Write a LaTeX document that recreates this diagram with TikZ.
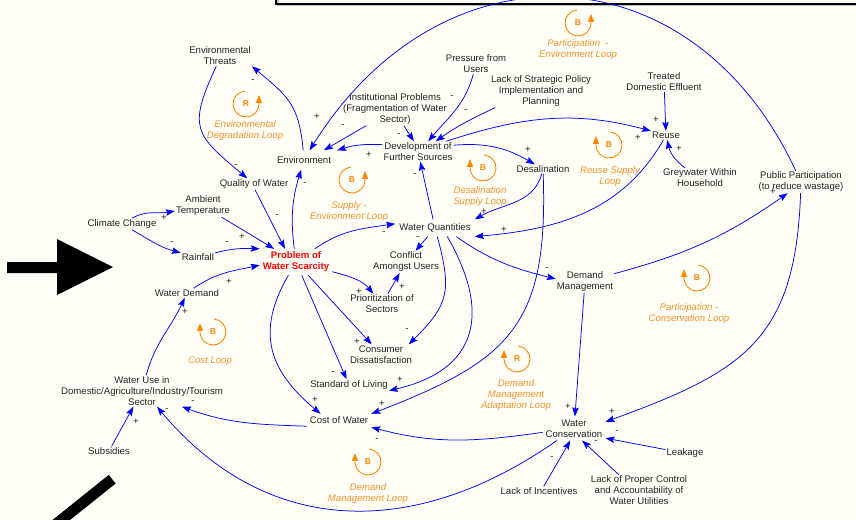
\documentclass[tikz,border=0pt]{standalone}
\usepackage{fontspec}
\setmainfont{Liberation Sans}
\usetikzlibrary{arrows.meta}
\definecolor{paper}{RGB}{255,255,248}
\definecolor{linkblue}{RGB}{0,0,255}
\definecolor{loopcol}{RGB}{255,133,0}
\definecolor{looptext}{RGB}{250,145,40}
\definecolor{varcol}{RGB}{35,35,35}
\tikzset{var/.style={inner sep=1pt,align=center,text=varcol,font=\fontsize{9.6}{11}\selectfont}}
\tikzset{core/.style={var,text=red,font=\fontsize{9.6}{11}\selectfont\bfseries}}
\tikzset{sgn/.style={inner sep=0pt,text=varcol,font=\fontsize{9.6}{11}\selectfont}}
\tikzset{loop label/.style={align=center,inner sep=0pt,text=looptext,font=\fontsize{9.6}{11}\selectfont\itshape}}
\tikzset{loop mark/.style={inner sep=0pt,text=loopcol,font=\fontsize{8.5}{10}\selectfont\bfseries}}
\tikzset{loop ring/.style={draw=loopcol,line width=0.9pt,-{Triangle[length=8pt,width=6pt]}}}
\begin{document}
\begin{tikzpicture}[x=1pt,y=1pt,>={Stealth[length=9pt,width=6.5pt,inset=1.5pt]},
                    every edge/.style={draw=linkblue,line width=0.75pt}]
\fill[paper] (0,0) rectangle (856,-519);
\useasboundingbox (0,0) rectangle (856,-519);

% frame of the box above and the two black marks
\draw[gray!55,line width=1.2pt] (278,2) -- (278,-5.3) -- (860,-5.3);
\draw[black,line width=1.5pt] (276,2) -- (276,-3.8) -- (860,-3.8);
\fill[black] (7,-262) -- (57,-262) -- (57,-239) -- (113,-267) -- (57,-295) -- (57,-273) -- (7,-273) -- cycle;
\draw[black,line width=11pt] (112.2,-479.2) -- (55,-525);

\node[var] (EnvThr) at (220,-56) {Environmental\\Threats};
\node[var] (InstProb) at (395,-109) {Institutional Problems\\(Fragmentation of Water\\Sector)};
\node[var] (Pressure) at (476,-64) {Pressure from\\Users};
\node[var] (LackStrat) at (541,-91) {Lack of Strategic Policy\\Implementation and\\Planning};
\node[var] (Treated) at (664,-82) {Treated\\Domestic Effluent};
\node[var,inner sep=6pt] (Env) at (304,-160) {Environment};
\node[var] (DevSrc) at (418,-151.5) {Development of\\Further Sources};
\node[var] (Desal) at (543,-169) {Desalination};
\node[var] (Reuse) at (666,-135.5) {Reuse};
\node[var] (Grey) at (700,-178) {Greywater Within\\Household};
\node[var] (PubPart) at (801,-182) {Public Participation\\(to reduce wastage)};
\node[var] (QualW) at (254,-184) {Quality of Water};
\node[var] (AmbT) at (203,-206) {Ambient\\Temperature};
\node[var] (Climate) at (122,-224) {Climate Change};
\node[var] (Rain) at (198,-257.5) {Rainfall};
\node[core,inner sep=3pt] (Problem) at (296,-262) {Problem of\\Water Scarcity};
\node[var,inner sep=4pt] (WQuant) at (435,-228) {Water Quantities};
\node[var] (Conflict) at (406,-262) {Conflict\\Amongst Users};
\node[var] (Prior) at (382,-304) {Prioritization of\\Sectors};
\node[var] (WDemand) at (187,-293) {Water Demand};
\node[var] (DemMgmt) at (585,-281.5) {Demand\\Management};
\node[var] (Consumer) at (381,-354.5) {Consumer\\Dissatisfaction};
\node[var] (StdLiv) at (349,-385) {Standard of Living};
\node[var] (WUse) at (142,-391) {Water Use in\\Domestic/Agriculture/Industry/Tourism\\Sector};
\node[var,inner sep=3pt] (Cost) at (339,-420.5) {Cost of Water};
\node[var,inner sep=3pt] (WCons) at (574,-428.5) {Water\\Conservation};
\node[var] (Leak) at (685,-453) {Leakage};
\node[var] (Subs) at (109,-451) {Subsidies};
\node[var] (LackInc) at (539,-491) {Lack of Incentives};
\node[var] (LackCtrl) at (639,-490.5) {Lack of Proper Control\\and Accountability of\\Water Utilities};

\path[->]
  (Env) edge[out=95,in=-40,looseness=1.2] (EnvThr.south east)
  (EnvThr.250) edge[out=-115,in=140,looseness=1.5] (QualW)
  (QualW.-80) edge (Problem.130)
  (Problem) edge[bend left=12] (Env)
  (AmbT) edge (Problem)
  (Climate) edge[out=30,in=190] (AmbT)
  (Climate) edge[out=-30,in=165] (Rain)
  (Rain) edge[out=15,in=178] (Problem.160)
  (WDemand) edge[out=35,in=192] (Problem.185)
  (WUse) edge[out=75,in=-115] (WDemand)
  (Subs) edge (WUse)
  (Cost.190) edge[out=178,in=-20] ([xshift=40pt]WUse.south)
  (WCons) edge[out=-145,in=-50,looseness=1.1] ([xshift=15pt]WUse.south)
  (Problem) edge[out=-120,in=140,looseness=1.2] (Cost.160)
  (Problem) edge (StdLiv)
  (Problem) edge (Consumer)
  (Problem) edge[out=-15,in=130] (Prior)
  (Prior) edge (Conflict)
  (Problem) edge[out=35,in=188] (WQuant.174)
  (WQuant) edge (Conflict)
  (WQuant) edge[out=-75,in=45,looseness=1.3] (Consumer.20)
  (WQuant.-35) edge[out=-60,in=13,looseness=1.4] (StdLiv.south east)
  (WQuant) edge (DevSrc)
  (WQuant.-22) edge[out=-35,in=166] (DemMgmt.175)
  (DevSrc) edge[bend right=10] (Env.north east)
  (InstProb.-150) edge (Env.26)
  (InstProb.-62) edge (DevSrc.112)
  (PubPart) edge[out=115,in=58,looseness=1.3] (Env.60)
  (Pressure) edge[out=-105,in=50] (DevSrc.45)
  (LackStrat.-160) edge[out=-155,in=35] (DevSrc.30)
  (DevSrc.20) edge[out=18,in=165] (Reuse.north west)
  (DevSrc.10) edge[out=5,in=150] (Desal.150)
  (Desal) edge[out=-105,in=30] (WQuant.north east)
  (Reuse) edge[out=-120,in=5] (WQuant.south east)
  (Treated) edge (Reuse)
  (Grey.146) edge[bend left=20] (Reuse.-75)
  (Desal) edge[out=-88,in=21,looseness=1.3] (Cost.north east)
  (DemMgmt) edge[out=15,in=-145] (PubPart.-140)
  (PubPart) edge[out=-92,in=20,looseness=1.25] (WCons.12)
  (DemMgmt) edge (WCons)
  (WCons.187) edge[out=-172,in=-15] (Cost.south east)
  (Leak.170) edge (WCons.-17)
  (LackInc.45) edge (WCons.-107)
  (LackCtrl.142) edge (WCons.-56);

\foreach \x/\y/\s [count=\i] in {253/81/-, 317/117/+, 343/126/-, 399/135/-, 369/155/+,
    236/166/-, 305/184/-, 415/175/-, 277/216/-, 164/218/+, 172/243/-, 227/243/-,
    242/237/+, 384/233/-, 418/238/-, 452/97/-, 466/111/-, 656/120/+, 638/138/+,
    679/149/+, 528/150/+, 484/212/+, 504/230/+, 773/192/+, 229/282/+, 185/312/+,
    359/292/+, 402/287/+, 407/330/-, 357/342/+, 333/373/-, 400/380/+, 315/400/+,
    382/404/+, 193/402/-, 167/410/-, 136/422/+, 377/440/-, 547/269/-, 568/407/+,
    612/412/+, 617/432/-, 596/442/-, 552/458/-}
  \node[sgn] (sign\i) at (\x,-\y) {\s};

\foreach \n/\x/\y/\l in {envdeg/246/104/R, supenv/352/180/B, partenv/578/23/B} {
  \node[loop mark] (\n) at (\x,-\y) {\l};
  \draw[loop ring] (\n.center) ++(95:13) arc[start angle=95,end angle=358,radius=13] -- ++(0,9.5);
}
\foreach \n/\x/\y/\l in {desal/483/168/B, reusesup/609/145/B, costlp/213/332/B,
    partcons/697/278/B, dmadapt/517/359/R, dmloop/368/462/B} {
  \node[loop mark] (\n) at (\x,-\y) {\l};
  \draw[loop ring] (\n.center) ++(85:13) arc[start angle=85,end angle=-178,radius=13] -- ++(0,9.5);
}

\node[loop label] (envdeg-txt) at (245,-130.5) {Environmental\\Degradation Loop};
\node[loop label] (supenv-txt) at (349,-211.5) {Supply -\\Environment Loop};
\node[loop label] (partenv-txt) at (578,-49.5) {Participation\ \ -\\Environment Loop};
\node[loop label] (desal-txt) at (480,-197) {Desalination\\Supply Loop};
\node[loop label] (reusesup-txt) at (610,-176.5) {Reuse Supply\\Loop};
\node[loop label] (costlp-txt) at (210,-361) {Cost Loop};
\node[loop label] (partcons-txt) at (689,-313.5) {Participation -\\Conservation Loop};
\node[loop label] (dmadapt-txt) at (516,-395.5) {Demand\\Management\\Adaptation Loop};
\node[loop label] (dmloop-txt) at (368,-493.5) {Demand\\Management Loop};
\end{tikzpicture}
\end{document}
